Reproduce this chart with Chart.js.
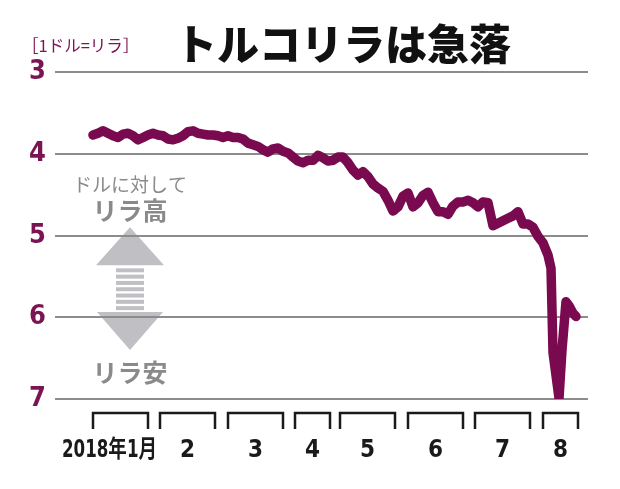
<!DOCTYPE html>
<html>
<head>
<meta charset="utf-8">
<script src="https://cdn.jsdelivr.net/npm/chart.js@4"></script>
<style>
  html, body { margin: 0; padding: 0; background: #fff; }
  #wrap { width: 620px; height: 489px; position: relative; }
</style>
</head>
<body>
<div id="wrap"><canvas id="lira"></canvas></div>
<script>
// trading-day index (Jan 2018 .. mid Aug 2018) and USD/TRY rate
var days = [0, 1, 2, 3, 4, 5, 6, 7, 8, 9, 10, 11, 12, 13, 14, 15, 16, 17, 18, 19,
  20, 21, 22, 23, 24, 25, 26, 27, 28, 29, 30, 31, 32, 33, 34, 35, 36, 37, 38, 39,
  40, 41, 42, 43, 44, 45, 46, 47, 48, 49, 50, 51, 52, 53, 54, 55, 56, 57, 58, 59,
  60, 61, 62, 63, 64, 65, 66, 67, 68, 69, 70, 71, 72, 73, 74, 75, 76, 77, 78, 79,
  80, 81, 82, 83, 84, 85, 86, 87, 88, 89, 90, 91, 91.6, 92, 93.2, 93.8, 94.6, 95.2, 96, 96.6];
var rates = [3.77, 3.75, 3.72, 3.75, 3.78, 3.80, 3.76, 3.75, 3.78, 3.83, 3.80, 3.77, 3.75, 3.77, 3.78, 3.82, 3.83, 3.81, 3.78, 3.73,
  3.72, 3.75, 3.76, 3.77, 3.77, 3.78, 3.80, 3.78, 3.80, 3.80, 3.82, 3.87, 3.89, 3.91, 3.95, 3.98, 3.94, 3.93, 3.97, 3.99,
  4.04, 4.09, 4.11, 4.08, 4.08, 4.02, 4.05, 4.09, 4.08, 4.04, 4.04, 4.11, 4.20, 4.26, 4.22, 4.28, 4.37, 4.42, 4.46, 4.57,
  4.70, 4.65, 4.52, 4.48, 4.65, 4.60, 4.51, 4.47, 4.60, 4.71, 4.71, 4.74, 4.64, 4.59, 4.59, 4.57, 4.60, 4.65, 4.59, 4.60,
  4.88, 4.85, 4.82, 4.79, 4.76, 4.71, 4.86, 4.86, 4.90, 5.01, 5.09, 5.24, 5.40, 6.43, 6.99, 6.40, 5.81, 5.86, 5.95, 5.99];

var monthLabels = ['2018年1月', '2', '3', '4', '5', '6', '7', '8'];
var monthStart = [0, 13.4, 27, 40.4, 49.4, 63, 76.4, 90];
var monthEnd = [11, 24.4, 38, 47.4, 60.4, 74, 87.4, 97];
var yTicks = [3, 4, 5, 6, 7];

var points = days.map(function (d, i) { return { x: d, y: rates[i] }; });

var narrow = "'DejaVu Sans Condensed', 'DejaVu Sans', 'Noto Sans CJK JP', sans-serif";
var jp = "'Noto Sans CJK JP', sans-serif";
var maroon = '#7b1452';

// title, unit, arrow note and month brackets
var decor = {
  id: 'decor',
  beforeDraw: function (chart) {
    var ctx = chart.ctx;
    var y = chart.scales.y;
    ctx.save();
    // arrow
    var cx = 130;
    var top = y.getPixelForValue(4.9), bot = y.getPixelForValue(6.4);
    ctx.fillStyle = '#c0c0c4';
    ctx.beginPath();
    ctx.moveTo(cx, top);
    ctx.lineTo(cx + 34, top + 38);
    ctx.lineTo(cx - 34, top + 38);
    ctx.closePath();
    ctx.fill();
    ctx.beginPath();
    ctx.moveTo(cx, bot);
    ctx.lineTo(cx + 33, bot - 38);
    ctx.lineTo(cx - 33, bot - 38);
    ctx.closePath();
    ctx.fill();
    for (var k = 0; k < 8; k++) {
      ctx.fillRect(cx - 14, top + 41 + k * 6.3, 28, 4);
    }
    ctx.fillStyle = '#8a8a8a';
    ctx.textAlign = 'center';
    ctx.textBaseline = 'middle';
    ctx.font = '19px ' + jp;
    ctx.fillText('ドルに対して', cx, y.getPixelForValue(4.38));
    ctx.font = 'bold 25px ' + jp;
    ctx.fillText('リラ高', cx, y.getPixelForValue(4.69));
    ctx.fillText('リラ安', cx, y.getPixelForValue(6.67));
    ctx.restore();
  },
  afterDraw: function (chart) {
    var ctx = chart.ctx;
    var xs = chart.scales.x;
    var b = chart.chartArea.bottom;
    ctx.save();
    // title
    ctx.fillStyle = '#111';
    ctx.textAlign = 'center';
    ctx.textBaseline = 'middle';
    ctx.font = '900 42px ' + jp;
    ctx.fillText('トルコリラは急落', 343, 44);
    ctx.fillStyle = maroon;
    ctx.textAlign = 'left';
    ctx.font = '16.5px ' + jp;
    ctx.fillText('［1ドル=リラ］', 22, 46);
    // month brackets
    ctx.strokeStyle = '#1a1a1a';
    ctx.lineWidth = 2.5;
    ctx.fillStyle = '#1a1a1a';
    ctx.font = 'condensed bold 24px ' + narrow;
    for (var m = 0; m < monthLabels.length; m++) {
      var x1 = xs.getPixelForValue(monthStart[m]);
      var x2 = xs.getPixelForValue(monthEnd[m]);
      ctx.beginPath();
      ctx.moveTo(x1, b + 30);
      ctx.lineTo(x1, b + 14);
      ctx.lineTo(x2, b + 14);
      ctx.lineTo(x2, b + 30);
      ctx.stroke();
      if (m === 0) {
        var w = ctx.measureText(monthLabels[m]).width;
        var sx = Math.min(1, 95 / w);
        ctx.save();
        ctx.translate(x2 + 9, b + 52);
        ctx.scale(sx, 1);
        ctx.textAlign = 'right';
        ctx.fillText(monthLabels[m], 0, 0);
        ctx.restore();
      } else {
        ctx.textAlign = 'center';
        ctx.fillText(monthLabels[m], (x1 + x2) / 2, b + 52);
      }
    }
    ctx.restore();
  }
};

new Chart(document.getElementById('lira'), {
  type: 'line',
  data: {
    datasets: [{
      label: 'USD/TRY',
      data: points,
      borderColor: '#7a0a50',
      borderWidth: 9.5,
      borderJoinStyle: 'round',
      borderCapStyle: 'round',
      pointRadius: 0,
      tension: 0,
      fill: false
    }]
  },
  options: {
    responsive: true,
    maintainAspectRatio: false,
    animation: false,
    layout: {
      padding: { top: 72, right: 32, bottom: 90, left: 0 }
    },
    plugins: {
      legend: { display: false },
      tooltip: { enabled: false }
    },
    scales: {
      x: {
        type: 'linear',
        min: -7.6,
        max: 99,
        display: false
      },
      y: {
        reverse: true,
        min: 3,
        max: 7,
        afterFit: function (s) { s.width = 55; },
        afterBuildTicks: function (s) {
          s.ticks = yTicks.map(function (v) { return { value: v }; });
        },
        border: { display: false },
        grid: { color: '#8c8c8c', lineWidth: 2, drawTicks: false },
        ticks: {
          color: maroon,
          padding: 9,
          font: { family: narrow, size: 27, weight: 'bold', style: 'condensed' }
        }
      }
    }
  },
  plugins: [decor]
});
</script>
</body>
</html>
